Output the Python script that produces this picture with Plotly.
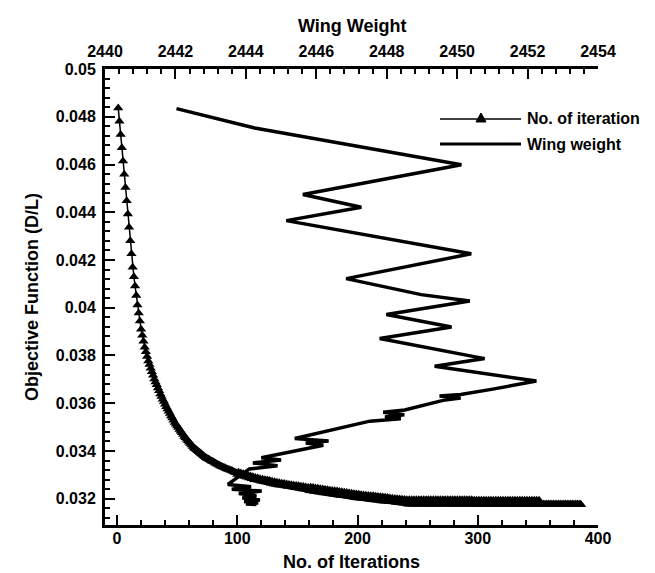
import plotly.graph_objects as go

# ---- data ----
objective = [
    0.04837, 0.04781, 0.04726, 0.04670, 0.04615, 0.04559, 0.04504, 0.04448, 0.04393, 0.04337,
    0.04281, 0.04226, 0.04170, 0.04130, 0.04091, 0.04051, 0.04012, 0.03978, 0.03944, 0.03910,
    0.03885, 0.03860, 0.03835, 0.03816, 0.03796, 0.03777, 0.03762, 0.03747, 0.03732, 0.03717,
    0.03702, 0.03689, 0.03677, 0.03664, 0.03652, 0.03639, 0.03628, 0.03617, 0.03607, 0.03596,
    0.03585, 0.03576, 0.03566, 0.03557, 0.03547, 0.03538, 0.03529, 0.03519, 0.03512, 0.03505,
    0.03498, 0.03490, 0.03483, 0.03476, 0.03469, 0.03461, 0.03455, 0.03449, 0.03443, 0.03437,
    0.03431, 0.03425, 0.03419, 0.03413, 0.03409, 0.03405, 0.03401, 0.03397, 0.03393, 0.03388,
    0.03384, 0.03380, 0.03376, 0.03372, 0.03369, 0.03366, 0.03363, 0.03360, 0.03357, 0.03355,
    0.03352, 0.03349, 0.03346, 0.03343, 0.03340, 0.03337, 0.03335, 0.03333, 0.03331, 0.03329,
    0.03326, 0.03324, 0.03322, 0.03320, 0.03318, 0.03316, 0.03313, 0.03311, 0.03309,
    0.03302, 0.03311, 0.03299, 0.03308, 0.03296, 0.03305, 0.03293, 0.03301, 0.03290, 0.03298,
    0.03287, 0.03295, 0.03284, 0.03292, 0.03280, 0.03289, 0.03278, 0.03287, 0.03276, 0.03284,
    0.03273, 0.03282, 0.03271, 0.03280, 0.03269, 0.03278, 0.03267, 0.03276, 0.03264, 0.03273,
    0.03262, 0.03271, 0.03260, 0.03269, 0.03258, 0.03267, 0.03256, 0.03265, 0.03255, 0.03264,
    0.03253, 0.03262, 0.03251, 0.03260, 0.03250, 0.03259, 0.03248, 0.03257, 0.03246, 0.03255,
    0.03245, 0.03254, 0.03243, 0.03252, 0.03241, 0.03251, 0.03240, 0.03249, 0.03238, 0.03247,
    0.03233, 0.03248, 0.03232, 0.03247, 0.03230, 0.03245, 0.03229, 0.03244, 0.03227, 0.03242,
    0.03226, 0.03241, 0.03224, 0.03239, 0.03223, 0.03238, 0.03221, 0.03236, 0.03220, 0.03235,
    0.03218, 0.03233, 0.03217, 0.03232, 0.03215, 0.03230, 0.03214, 0.03229, 0.03212, 0.03227,
    0.03211, 0.03226, 0.03209, 0.03224, 0.03208, 0.03223, 0.03206, 0.03221, 0.03204, 0.03220,
    0.03203, 0.03219, 0.03202, 0.03217, 0.03201, 0.03216, 0.03200, 0.03215, 0.03199, 0.03214,
    0.03197, 0.03213, 0.03196, 0.03212, 0.03195, 0.03210, 0.03194, 0.03209, 0.03193, 0.03208,
    0.03191, 0.03207, 0.03190, 0.03206, 0.03189, 0.03205, 0.03188, 0.03203, 0.03187, 0.03202,
    0.03186, 0.03201, 0.03184, 0.03200, 0.03183, 0.03199, 0.03182, 0.03198, 0.03181, 0.03197,
    0.03180, 0.03196,
    0.03177, 0.03196, 0.03177, 0.03196, 0.03177, 0.03196, 0.03177, 0.03196, 0.03177, 0.03196,
    0.03177, 0.03196, 0.03177, 0.03196, 0.03177, 0.03196, 0.03177, 0.03196, 0.03177, 0.03196,
    0.03177, 0.03196, 0.03177, 0.03196, 0.03177, 0.03196, 0.03177, 0.03196, 0.03177, 0.03196,
    0.03177, 0.03196, 0.03177, 0.03196, 0.03177, 0.03196, 0.03177, 0.03196, 0.03177, 0.03196,
    0.03177, 0.03196, 0.03177, 0.03196, 0.03177, 0.03196, 0.03177, 0.03196, 0.03177, 0.03196,
    0.03177, 0.03196, 0.03177, 0.03196, 0.03177,
    0.03194, 0.03176, 0.03194, 0.03176, 0.03194,
    0.03176, 0.03194, 0.03176, 0.03194, 0.03176, 0.03194, 0.03176, 0.03194, 0.03176, 0.03194,
    0.03176, 0.03194, 0.03176, 0.03194, 0.03176, 0.03194, 0.03176, 0.03194, 0.03176, 0.03194,
    0.03176, 0.03194, 0.03176, 0.03194, 0.03176, 0.03194, 0.03176, 0.03194, 0.03176, 0.03194,
    0.03176, 0.03194, 0.03176, 0.03194, 0.03176, 0.03194, 0.03176, 0.03194, 0.03176, 0.03194,
    0.03176, 0.03194, 0.03176, 0.03194, 0.03176, 0.03194, 0.03176, 0.03194, 0.03176, 0.03194,
    0.03175, 0.03178, 0.03175, 0.03178, 0.03175, 0.03178, 0.03175, 0.03178, 0.03175, 0.03178,
    0.03175, 0.03178, 0.03175, 0.03178, 0.03175, 0.03178, 0.03175, 0.03178, 0.03175, 0.03178,
    0.03175, 0.03178, 0.03175, 0.03178, 0.03175, 0.03178, 0.03175, 0.03178, 0.03175, 0.03178,
    0.03175, 0.03178, 0.03175, 0.03178, 0.03175,
]
iterations = list(range(1, len(objective) + 1))

wing_weight = [
    2442.03, 2444.25, 2450.12, 2445.62, 2447.28, 2445.15, 2450.40, 2446.85, 2448.98, 2450.36,
    2447.99, 2449.84, 2447.80, 2450.78, 2449.36, 2452.25, 2450.97, 2450.10, 2449.50, 2450.10,
    2449.60, 2448.51, 2447.90, 2448.50, 2447.95, 2448.40, 2447.52, 2445.39, 2446.35, 2445.70,
    2446.20, 2444.44, 2445.00, 2444.20, 2444.90, 2444.10, 2443.49, 2444.15, 2443.60, 2444.45,
    2443.80, 2444.30, 2443.90, 2444.40, 2443.95, 2444.35, 2444.00, 2444.30,
]
wing_objective = [
    0.04834, 0.04753, 0.04599, 0.04474, 0.04421, 0.04365, 0.04226, 0.04122, 0.04055, 0.04028,
    0.03972, 0.03919, 0.03871, 0.03787, 0.03755, 0.03693, 0.03658, 0.03637, 0.03630, 0.03622,
    0.03612, 0.03572, 0.03562, 0.03552, 0.03542, 0.03535, 0.03525, 0.03452, 0.03442, 0.03433,
    0.03424, 0.03372, 0.03362, 0.03350, 0.03338, 0.03325, 0.03260, 0.03250, 0.03240, 0.03232,
    0.03222, 0.03212, 0.03203, 0.03195, 0.03188, 0.03182, 0.03178, 0.03176,
]

legend_labels = ["No. of iteration", "Wing weight"]
x_title = "No. of Iterations"
x2_title = "Wing Weight"
y_title = "Objective Function (D/L)"

FONT = "Liberation Sans, Arial, Helvetica, sans-serif"
tickfont = dict(family=FONT, size=16, color="black", weight="bold")

fig = go.Figure()
fig.add_trace(go.Scatter(
    x=iterations, y=objective, mode="lines+markers", name=legend_labels[0],
    line=dict(color="black", width=1.5),
    marker=dict(symbol="triangle-up", size=9, color="black"),
    xaxis="x", yaxis="y", showlegend=False,
))
fig.add_trace(go.Scatter(
    x=wing_weight, y=wing_objective, mode="lines", name=legend_labels[1],
    line=dict(color="black", width=3.5),
    xaxis="x2", yaxis="y", showlegend=False,
))

axis_common = dict(
    ticks="inside", tickwidth=2, tickcolor="black", ticklen=10,
    showline=True, linecolor="black", linewidth=3,
    showgrid=False, zeroline=False, tickfont=tickfont,
)

fig.update_layout(
    width=655, height=573,
    margin=dict(l=97, r=65, t=61, b=56),
    paper_bgcolor="white", plot_bgcolor="white",
    xaxis=dict(range=[-10, 400], tickmode="linear", tick0=0, dtick=100,
               ticklabelstandoff=-3,
               minor=dict(ticks="inside", ticklen=5, tickwidth=1.5, tickcolor="black",
                          tickmode="linear", tick0=0, dtick=20),
               **axis_common),
    xaxis2=dict(range=[2440, 2454], tickmode="linear", tick0=2440, dtick=2,
                overlaying="x", side="top", anchor="y", ticklabelstandoff=3,
                minor=dict(ticks="inside", ticklen=5, tickwidth=1.5, tickcolor="black",
                           tickmode="linear", tick0=2440, dtick=0.4),
                **axis_common),
    yaxis=dict(range=[0.0309, 0.05], tickmode="linear", tick0=0.032, dtick=0.002,
               tickformat=".3~f", mirror=False, ticklabelstandoff=3,
               minor=dict(ticks="inside", ticklen=5, tickwidth=1.5, tickcolor="black",
                          tickmode="linear", tick0=0.032, dtick=0.0004),
               **axis_common),
    showlegend=False,
)

title_font = dict(family=FONT, size=18, color="black", weight="bold")
fig.add_annotation(text=x2_title, xref="paper", yref="paper", x=0.5, y=1.094,
                   showarrow=False, font=title_font, xanchor="center", yanchor="middle")
fig.add_annotation(text=x_title, xref="paper", yref="paper", x=0.5, y=-0.081,
                   showarrow=False, font=title_font, xanchor="center", yanchor="middle")
fig.add_annotation(text=y_title, xref="paper", yref="paper", x=-0.148, y=0.5,
                   showarrow=False, font=title_font, textangle=-90,
                   xanchor="center", yanchor="middle")

# custom legend (top right)
leg_font = dict(family=FONT, size=16, color="black", weight="bold")
row1, row2 = 0.8904, 0.8355
lx0, lx1 = 0.6795, 0.8438
fig.add_shape(type="line", xref="paper", yref="paper", x0=lx0, x1=lx1, y0=row1, y1=row1,
              line=dict(color="black", width=1.5))
fig.add_shape(type="path", xref="paper", yref="paper", xsizemode="pixel", ysizemode="pixel",
              xanchor=0.7627, yanchor=row1, path="M-5,-3 L5,-3 L0,6 Z",
              fillcolor="black", line=dict(color="black", width=1))
fig.add_shape(type="line", xref="paper", yref="paper", x0=lx0, x1=lx1, y0=row2, y1=row2,
              line=dict(color="black", width=3))
fig.add_annotation(text=legend_labels[0], xref="paper", yref="paper", x=0.852, y=row1,
                   showarrow=False, font=leg_font, xanchor="left", yanchor="middle")
fig.add_annotation(text=legend_labels[1], xref="paper", yref="paper", x=0.852, y=row2,
                   showarrow=False, font=leg_font, xanchor="left", yanchor="middle")

fig.write_html("out.html")
